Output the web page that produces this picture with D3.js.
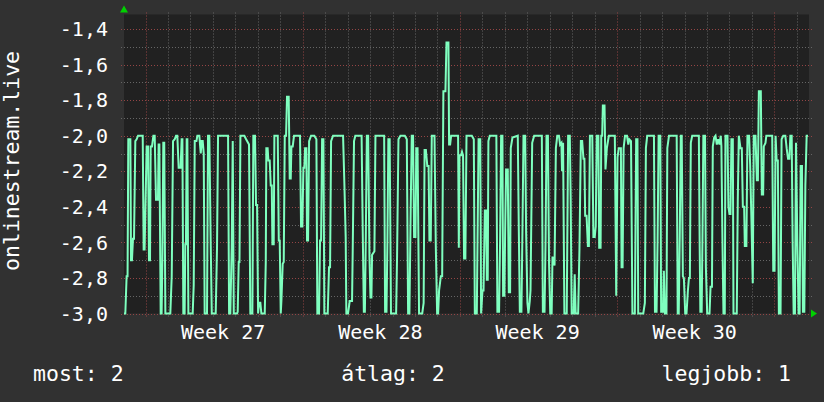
<!DOCTYPE html>
<html>
<head>
  <meta charset="utf-8">
  <title>onlinestream.live</title>
  <script src="https://d3js.org/d3.v7.min.js"></script>
  <style>
    body { margin: 0; background: #313131; }
    text { font-family: "DejaVu Sans Mono", monospace; fill: #fff; }
    .grid-minor { stroke: #666; stroke-dasharray: 1,2; }
    .grid-major { stroke: #944545; stroke-dasharray: 1,2; }
  </style>
</head>
<body>
<svg id="chart"></svg>
<script>
  // tengelyek
  const yTicks = [-3.0, -2.8, -2.6, -2.4, -2.2, -2.0, -1.8, -1.6, -1.4];
  const weekLabels = ["Week 27", "Week 28", "Week 29", "Week 30"];
  const legendItems = ["most: 2", "átlag: 2", "legjobb: 1"];
  const yLabel = "onlinestream.live";

  // [órák a kezdettől, érték]
  const points = [
    [0,-3.0],[1.4,-3.0],[2.8,-2.79],[3.8,-2.79],[4.6,-2.02],[6.8,-2.02],[7.5,-2.7],[8.5,-2.7],[9.6,-2.58],[10.7,-2.58],
    [12.1,-2.03],[13.5,-2.02],[15,-2.0],[20,-2.0],[21,-2.64],[22,-2.64],[23.5,-2.25],[24.2,-2.06],[25.7,-2.06],[26.7,-2.7],
    [27.8,-2.7],[28.5,-2.06],[29.9,-2.06],[31.4,-2.0],[32.8,-2.0],[34.2,-2.36],[36.3,-2.36],[37,-2.05],[37.8,-2.05],[39.2,-3.0],
    [40.2,-3.0],[41,-2.7],[42,-2.04],[43,-2.04],[44.2,-3.0],[49.5,-3.0],[51,-2.79],[52.4,-2.03],[54.2,-2.02],[55.6,-2.0],
    [57,-2.0],[58.4,-2.18],[60.5,-2.18],[61.6,-2.02],[62.4,-2.02],[63.4,-3.0],[64.8,-3.0],[65.5,-2.61],[66.2,-2.61],[67,-2.02],
    [67.7,-2.02],[68.8,-3.0],[73.4,-3.0],[74.5,-2.84],[75.6,-2.03],[77.4,-2.03],[78.4,-2.0],[80.5,-2.0],[82,-2.1],[83,-2.03],
    [84.1,-2.03],[85.2,-2.1],[86.2,-3.0],[88.7,-3.0],[89.8,-2.0],[91.2,-2.0],[92.7,-2.62],[93.8,-3.0],[98,-3.0],[99.4,-2.63],
    [100.5,-2.0],[111.2,-2.0],[112.3,-3.0],[113.6,-3.0],[115.1,-2.63],[116.2,-2.03],[117.3,-3.0],[120.8,-3.0],
    [121.5,-2.99],[122.6,-2.71],[123.4,-2.71],[124.4,-2.0],[128.6,-2.0],[130.5,-2.02],[133.6,-2.05],[135,-3.0],[137.2,-3.0],[138.2,-2.0],
    [140,-2.0],[141.1,-2.39],[142.2,-2.39],[143.3,-3.0],[144.3,-2.94],[145.7,-2.94],[146.8,-3.0],[150.4,-3.0],[151.5,-2.71],[152.1,-2.07],
    [153.5,-2.07],[154.3,-2.14],[155.7,-2.14],[156.8,-2.28],[157.9,-2.28],[158.6,-2.61],[160,-2.61],[160.7,-2.0],[164.3,-2.0],[165.4,-2.59],
    [166.4,-2.59],[167.5,-3.0],[168.2,-2.93],[169.6,-2.72],[170.7,-2.71],[171.8,-2.0],[173.2,-2.0],[174.2,-1.78],[176,-1.78],[177.1,-2.24],
    [178.2,-2.24],[178.9,-2.06],[180.3,-2.06],[181.7,-2.0],[188.1,-2.0],[189.2,-2.51],[190.6,-2.51],[191.7,-2.18],[192.7,-2.18],[193.5,-2.07],
    [194.9,-2.07],[195.6,-2.59],[196.7,-2.59],[197.8,-2.03],[199.9,-2.0],[203.4,-2.0],[205.6,-2.02],[206.6,-3.0],[208.4,-3.0],[209.5,-2.59],
    [210.6,-2.59],[211.7,-2.02],[213.1,-2.02],[214.1,-3.0],[217.7,-3.0],[219.1,-2.74],[220.2,-2.74],[221.3,-2.03],[223.4,-2.0],[234.1,-2.0],
    [235.5,-2.27],[236.9,-2.57],[237.6,-3.0],[239.4,-3.0],[241.2,-2.93],[243.7,-2.93],
    [244.4,-2.65],[245.8,-2.03],[247.2,-2.0],[253.9,-2.0],[255.2,-2.57],[256.3,-2.99],[257.4,-2.99],[258.4,-2.57],[259.5,-2.0],[260.9,-2.0],
    [262.3,-2.68],[263.4,-2.91],[264.4,-2.91],[265.1,-2.67],[267.6,-2.65],[268.7,-2.0],[278,-2.0],[279,-2.99],[280.5,-2.99],[281.5,-2.59],
    [282.5,-2.02],[283.9,-2.02],[285.3,-3.0],[290.8,-3.0],[291.8,-2.68],[293.3,-2.02],[295.4,-2.0],[300.1,-2.0],[302.2,-2.02],[303.6,-3.0],
    [305,-3.0],[306.4,-2.4],[307.5,-2.0],[308.9,-2.0],[310,-2.57],[311.5,-2.57],[312.3,-2.07],[313.7,-2.07],[315.3,-3.0],[318.7,-3.0],
    [320.2,-2.94],[321.2,-2.08],[322.6,-2.08],[324.1,-2.17],[325.5,-2.17],[326.4,-2.59],[327.8,-2.59],[328.9,-2.0],[331.8,-2.0],[333.2,-2.62],
    [334.6,-3.0],[335.7,-3.0],[336.7,-2.87],[338.6,-2.79],[340,-2.79],[341.3,-1.75],[343.5,-1.75],[344.6,-1.475],[346.7,-1.475],[347.4,-2.05],
    [348.5,-2.05],[349.6,-2.0],[357,-2.0],[357.8,-2.63],[358.5,-2.11],[360.2,-2.11],[361.2,-2.09],[362.3,-2.11],[363.4,-2.69],[364.8,-2.69],
    [366,-2.0],
    [371.7,-2.0],[373.8,-2.02],[374.9,-3.0],[377,-3.0],[377.8,-2.59],[378.9,-2.02],[380.7,-2.02],[381.6,-3.0],[383.1,-2.87],[384.2,-2.87],
    [385.6,-2.42],[387,-2.42],[387.7,-2.81],[388.7,-2.81],[389.4,-2.03],[390.9,-2.0],[397.9,-2.0],[399,-2.99],[400.8,-2.99],[401.9,-2.59],
    [403,-2.0],[404.4,-2.0],[405.1,-2.9],[406.5,-2.9],[407.3,-2.54],[408.3,-2.19],[410.1,-2.19],[411.2,-2.88],[412.6,-2.88],[413.3,-2.07],
    [415.1,-2.01],[420.8,-2.0],[421.9,-2.53],[423,-2.99],[424.7,-2.99],[425.8,-2.53],[426.9,-2.0],[428.7,-2.0],[429.7,-2.54],[431.1,-2.94],
    [432.2,-3.0],[433.6,-2.93],[434.4,-2.87],[436.2,-2.04],[438.3,-2.0],[446.5,-2.0],[447.6,-2.99],[449.4,-2.99],[450.5,-2.59],[451.5,-2.0],
    [453,-2.0],[454.2,-2.72],[455.5,-3.0],[457,-3.0],[457.9,-2.68],[460.1,-2.73],[461.5,-2.07],[463,-2.0],[464.8,-2.0],[466,-2.05],
    [467.4,-2.04],[468.1,-2.2],[469.2,-2.04],[470.6,-3.0],[473.1,-3.0],[474.6,-2.0],[476.4,-2.0],[477.3,-2.34],[478.4,-3.0],[480.5,-3.0],
    [481.6,-2.78],[482.7,-3.0],[485.3,-3.0],[486.7,-2.64],[488.2,-2.03],[489.6,-2.03],
    [491,-2.13],[492,-2.13],[492.8,-2.45],[494.3,-2.45],[495.7,-2.62],[496.8,-2.62],[497.9,-2.0],[500.4,-2.0],[501.6,-2.57],[503,-2.57],
    [504.1,-2.51],[505.2,-2.0],[506.9,-2.0],[507.8,-2.63],[509.3,-2.63],[510,-2.0],[511,-2.0],[511.7,-1.83],[513.5,-1.83],[514.5,-2.19],
    [516,-2.07],[518.1,-2.0],[524.5,-2.0],[526,-2.9],[527.4,-2.12],[528.8,-2.07],[531,-2.07],[531.7,-2.74],[532.8,-2.74],[533.9,-2.07],
    [535.4,-2.0],[537.5,-2.0],[538.9,-2.05],[540,-2.02],[541.8,-2.03],[543.3,-3.0],[545.9,-3.0],[547.3,-2.02],[548.7,-2.02],[549.5,-3.0],
    [554.9,-3.0],[556.6,-2.94],[557.7,-2.07],[559.1,-2.0],[566.3,-2.0],[567.4,-2.99],[569.1,-2.99],[570.2,-2.59],[571.3,-2.0],[573.1,-2.0],
    [574,-2.99],[575.9,-2.99],[576.9,-2.76],[578,-3.0],[579.7,-3.0],[580.6,-2.07],[582.4,-2.0],[590.6,-2.0],[591.7,-3.0],[592.8,-3.0],
    [593.9,-2.56],[595,-2.0],[596,-2.0],[597.2,-2.79],[598.3,-2.8],[599.7,-3.0],[601.1,-3.0],[602.6,-2.87],[603.7,-2.8],[604.7,-2.8],
    [605.7,-2.04],[607.2,-2.0],[612.5,-2.0],
    [614.3,-2.0],[615.2,-2.63],[615.9,-2.99],[617.3,-2.99],[618.1,-2.61],[619.1,-2.0],[620.9,-2.0],[621.8,-2.74],[623.2,-3.0],[625.7,-3.0],
    [626.8,-2.85],[628.3,-2.85],[629.2,-2.06],[630.7,-2.01],[632.1,-2.0],[633.5,-2.05],[634.9,-2.02],[636.3,-2.05],[637.7,-2.0],[638.4,-2.06],
    [639.5,-2.59],[640.6,-3.0],[642,-3.0],[642.7,-2.0],[644.9,-2.0],[645.9,-2.4],[647,-2.44],[648.1,-2.44],[649.1,-2.02],[650.6,-2.02],
    [651.3,-3.0],[654.8,-3.0],[655.9,-2.36],[657,-2.0],[658.8,-2.07],[660.2,-2.07],[661.3,-2.4],[662.7,-2.4],[663.4,-2.62],[665.1,-2.62],
    [666.2,-2.0],[668,-2.0],[669.1,-2.16],[670.5,-2.48],[671.9,-2.83],[673,-2.0],[674.8,-2.0],[676.3,-2.25],[677.4,-2.25],[678.4,-1.75],
    [680.5,-1.75],[681.6,-2.33],[683,-2.33],[683.7,-2.06],[685.5,-2.04],[686.4,-2.0],[692.7,-2.0],[693.8,-2.76],[695.2,-2.76],[696.3,-2.0],
    [697.4,-2.14],[698.7,-2.14],[699.8,-3.0],[701.6,-3.0],[702.7,-2.02],[704.5,-2.0],[706.7,-2.0],[708.1,-2.07],[709.6,-2.13],[711,-2.13],
    [712.1,-2.0],[713.5,-2.0],[714.5,-2.59],[715.6,-3.0],[717,-3.0],[718.1,-2.04],[719.5,-2.59],[720.9,-3.0],[722,-3.0],[723.1,-2.17],
    [724.5,-2.17],[725.5,-2.99],[727,-2.99],[728.1,-2.28],[729.5,-2.0],[730.9,-2.0]
  ];

  const W = 824, H = 402;
  const plot = { left: 124, right: 809, top: 14.5, bottom: 313.5 };
  const start = new Date(Date.UTC(2023, 6, 2, 1));
  const end = new Date(+start + 732 * 36e5);
  const toDate = h => new Date(+start + h * 36e5);

  const svg = d3.select("#chart").attr("width", W).attr("height", H);
  svg.append("rect").attr("width", W).attr("height", H).attr("fill", "#313131");

  const x = d3.scaleUtc().domain([start, end]).range([plot.left, plot.right]);
  const y = d3.scaleLinear().domain([-3.0, -1.318]).range([plot.bottom, plot.top]);

  svg.append("rect")
    .attr("x", plot.left).attr("y", plot.top)
    .attr("width", plot.right - plot.left).attr("height", plot.bottom - plot.top)
    .attr("fill", "#212121");

  // rács
  const grid = svg.append("g");
  const days = d3.utcDay.range(d3.utcDay.ceil(start), end);
  grid.selectAll(".vx").data(days).join("line")
    .attr("class", d => d.getUTCDay() === 1 ? "grid-major" : "grid-minor")
    .attr("x1", d => Math.round(x(d)) + 0.5).attr("x2", d => Math.round(x(d)) + 0.5)
    .attr("y1", plot.top - 2).attr("y2", plot.bottom + 3);

  const minor = d3.range(-30, -13).map(d => d / 10);
  grid.selectAll(".hy").data(minor).join("line")
    .attr("class", (d, i) => i % 2 === 0 ? "grid-major" : "grid-minor")
    .attr("x1", plot.left - 3).attr("x2", plot.right + 3)
    .attr("y1", d => Math.round(y(d)) + 0.5).attr("y2", d => Math.round(y(d)) + 0.5);

  // y tengely feliratok
  const fmt = d3.formatLocale({ decimal: ",", thousands: ".", grouping: [3], currency: ["", ""], minus: "-" }).format(".1f");
  svg.append("g").selectAll("text").data(yTicks).join("text")
    .attr("x", 108).attr("y", d => y(d))
    .attr("dy", "0.36em")
    .attr("text-anchor", "end")
    .style("font-size", "20px")
    .text(d => fmt(d));

  // hetek
  const mondays = d3.utcMonday.range(start, end);
  svg.append("g").selectAll("text").data(weekLabels).join("text")
    .attr("x", (d, i) => x(d3.utcHour.offset(mondays[i], 84)) - 1)
    .attr("y", 339)
    .attr("text-anchor", "middle")
    .style("font-size", "20px")
    .text(d => d);

  // adatvonal
  const line = d3.line().x(d => x(toDate(d[0]))).y(d => y(d[1]));
  svg.append("path").datum(points)
    .attr("d", line)
    .attr("fill", "none")
    .attr("stroke", "#7fffbf")
    .attr("stroke-width", 2)
    .attr("stroke-linejoin", "miter");

  // nyilak
  svg.append("path")
    .attr("d", `M${plot.left - 4},${plot.top - 2} L${plot.left + 4},${plot.top - 2} L${plot.left},${plot.top - 9} Z`)
    .attr("fill", "#00d000");
  svg.append("path")
    .attr("d", `M${plot.right + 2},${plot.bottom - 4} L${plot.right + 2},${plot.bottom + 4} L${plot.right + 8},${plot.bottom} Z`)
    .attr("fill", "#00d000");

  // y felirat
  svg.append("text")
    .attr("transform", "translate(19,161) rotate(-90)")
    .attr("text-anchor", "middle")
    .style("font-size", "21.5px")
    .text(yLabel);

  // jelmagyarázat
  const legendX = [33, 393, 791];
  const anchors = ["start", "middle", "end"];
  svg.append("g").selectAll("text").data(legendItems).join("text")
    .attr("x", (d, i) => legendX[i]).attr("y", 381)
    .attr("text-anchor", (d, i) => anchors[i])
    .style("font-size", "21.5px")
    .text(d => d);
</script>
</body>
</html>
